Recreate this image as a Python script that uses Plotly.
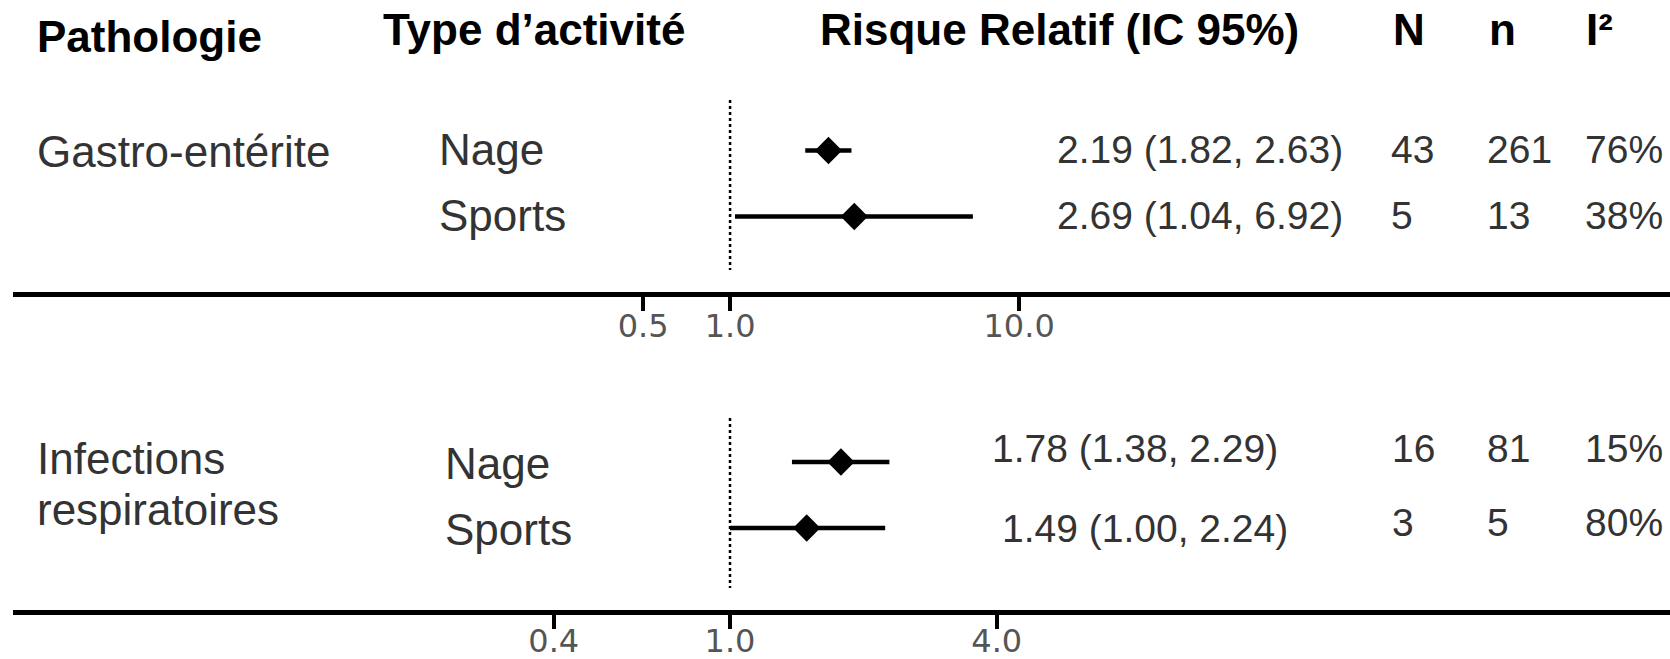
import plotly.graph_objects as go

W, H = 1670, 659

# ---------------- data ----------------
headers = ["Pathologie", "Type d’activité", "Risque Relatif (IC 95%)", "N", "n", "I²"]
activities = ["Nage", "Sports"]

patho_gastro = "Gastro-entérite"
rr_gastro = [2.19, 2.69]
lo_gastro = [1.82, 1.04]
hi_gastro = [2.63, 6.92]
N_gastro = [43, 5]
n_gastro = [261, 13]
i2_gastro = [76, 38]

patho_resp = ["Infections", "respiratoires"]
rr_resp = [1.78, 1.49]
lo_resp = [1.38, 1.00]
hi_resp = [2.29, 2.24]
N_resp = [16, 3]
n_resp = [81, 5]
i2_resp = [15, 80]

ticks_gastro = [0.5, 1.0, 10.0]
ticks_resp = [0.4, 1.0, 4.0]

# ---------------- layout constants (pixels) ----------------
AX_LEFT = 13
AX1_Y, AX2_Y = 292, 609.5          # bottom of each panel (axis line)
P2_TOP = 340
ROW1_Y0, ROW2_Y0, ROW_GAP = 150.5, 462, 66
RANGE1 = [-2.481, 3.252]
RANGE2 = [-1.6185, 2.1219]
REF1 = (100, 270)
REF2 = (418, 588)

FONT = "Liberation Sans, Arial, sans-serif"
TXT = "#333333"


def fmt_ci(r, l, h):
    return f"{r:.2f} ({l:.2f}, {h:.2f})"


fig = go.Figure()


def add_panel(rr, lo, hi, xa, ya, y0):
    ys = [y0 + i * ROW_GAP for i in range(len(rr))]
    fig.add_trace(go.Scatter(
        x=rr, y=ys, xaxis=xa, yaxis=ya, mode="markers",
        marker=dict(symbol="diamond", size=21, color="black"),
        error_x=dict(type="data", symmetric=False,
                     array=[h - r for h, r in zip(hi, rr)],
                     arrayminus=[r - l for r, l in zip(rr, lo)],
                     color="black", thickness=4.5, width=0),
        showlegend=False, hoverinfo="skip"))


add_panel(rr_gastro, lo_gastro, hi_gastro, "x", "y", ROW1_Y0)
add_panel(rr_resp, lo_resp, hi_resp, "x2", "y2", ROW2_Y0)

for xr, yr, (a, b) in (("x", "y", REF1), ("x2", "y2", REF2)):
    fig.add_shape(type="line", xref=xr, yref=yr, x0=1, x1=1, y0=a, y1=b,
                  line=dict(color="black", width=2.5, dash="dot"))

ann = []


def txt(s, x, y, size=44, bold=False, color=TXT):
    ann.append(dict(text=s, x=x / W, xref="paper", y=1 - y / H, yref="paper",
                    xanchor="left", yanchor="middle", showarrow=False,
                    font=dict(family=FONT, size=size, color=color,
                              weight="bold" if bold else "normal")))


# headers
head_pos = [(35, 36.5), (381, 29.5), (818, 29.5), (1391, 29.5), (1487, 29.5), (1584, 29.5)]
for h, (x, y) in zip(headers, head_pos):
    txt(h, x, y, size=44, bold=True, color="black")

# panel 1 texts
txt(patho_gastro, 35, 152)
for i, a in enumerate(activities):
    y = ROW1_Y0 + i * ROW_GAP - 1
    txt(a, 437, y)
    txt(fmt_ci(rr_gastro[i], lo_gastro[i], hi_gastro[i]), 1055, y, size=39)
    txt(str(N_gastro[i]), 1389, y, size=39)
    txt(str(n_gastro[i]), 1485, y, size=39)
    txt(f"{i2_gastro[i]}%", 1583, y, size=39)

# panel 2 texts
txt(patho_resp[0], 35, 458)
txt(patho_resp[1], 35, 509)
rr_x2 = [990, 1000]
num_y2 = [448, 522]
rr_y2 = [448, 528]
for i, a in enumerate(activities):
    y = ROW2_Y0 + i * ROW_GAP + 1
    txt(a, 443, y)
    txt(fmt_ci(rr_resp[i], lo_resp[i], hi_resp[i]), rr_x2[i], rr_y2[i], size=39)
    txt(str(N_resp[i]), 1390, num_y2[i], size=39)
    txt(str(n_resp[i]), 1485, num_y2[i], size=39)
    txt(f"{i2_resp[i]}%", 1583, num_y2[i], size=39)


def xaxis(rng, ticks, anchor, standoff):
    return dict(type="log", domain=[AX_LEFT / W, 1], range=rng, anchor=anchor,
                showline=True, linewidth=5, linecolor="black",
                ticks="outside", ticklen=14, tickwidth=4, tickcolor="black",
                tickmode="array", tickvals=ticks,
                ticktext=[f"{t:.1f}" for t in ticks],
                tickfont=dict(family="DejaVu Sans, sans-serif", size=32, color="#555555"),
                ticklabelstandoff=standoff,
                showgrid=False, zeroline=False, fixedrange=True, automargin=False)


def yaxis(top, bottom):
    return dict(domain=[1 - bottom / H, 1 - top / H], range=[bottom, top],
                visible=False, showgrid=False, zeroline=False,
                fixedrange=True, automargin=False)


fig.update_layout(
    width=W, height=H,
    margin=dict(l=0, r=0, t=0, b=0, pad=0, autoexpand=False),
    paper_bgcolor="white", plot_bgcolor="rgba(0,0,0,0)",
    xaxis=xaxis(RANGE1, ticks_gastro, "y", -12),
    xaxis2=xaxis(RANGE2, ticks_resp, "y2", -15),
    yaxis=yaxis(0, AX1_Y),
    yaxis2=yaxis(P2_TOP, AX2_Y),
    showlegend=False,
)
fig.update_layout(annotations=ann)

fig.write_html("out.html")
